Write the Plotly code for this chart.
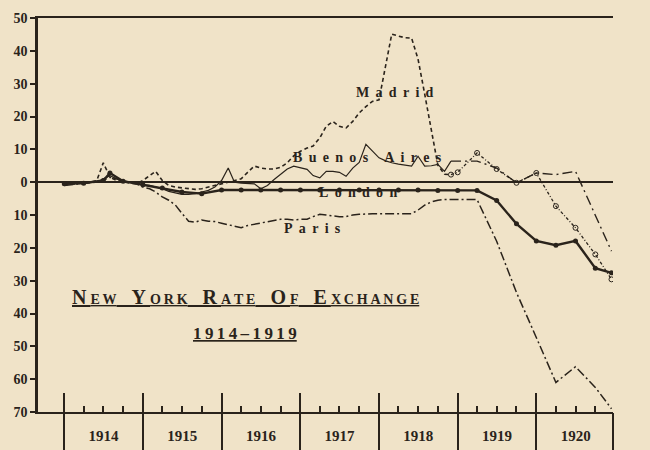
import pandas as pd
import plotly.graph_objects as go

INK = "#2a231b"
PAPER = "#f0e3c8"
SERIF = "Liberation Serif, DejaVu Serif, serif"

# -----------------------
# Data (percent above / below par)
# -----------------------
months = pd.date_range("1914-01-01", "1918-12-01", freq="MS")  # 1914-1918 monthly
late_dates = ["1919-01-01", "1919-04-01", "1919-07-01", "1919-10-01",
              "1920-01-01", "1920-04-01", "1920-07-01", "1920-10-01", "1920-12-15"]

paris = [-1.0, -0.8, -0.5, -0.3, 0.0, 0.0, 0.5, 1.5, 1.0, 0.3, 0.0, -0.5,
         -1.5, -2.0, -3.0, -4.5, -5.5, -7.0, -9.5, -11.9, -12.2, -11.5, -11.9, -12.0,
         -12.5, -13.0, -13.5, -13.9, -13.2, -12.8, -12.5, -12.0, -11.5, -11.3, -11.3, -11.5,
         -11.3, -11.3, -10.5, -9.8, -10.0, -10.3, -10.5, -10.5, -10.0, -9.8, -9.6, -9.6,
         -9.6, -9.6, -9.6, -9.6, -9.6, -9.6, -8.5, -7.0, -6.0, -5.5, -5.3, -5.3]
paris_late = [-5.3, -5.3, -18.0, -33.6, -47.3, -61.0, -56.2, -62.5, -69.0]

madrid = [-0.8, -0.7, -0.5, -0.3, 0.0, 0.5, 5.9, 1.5, 0.5, 0.0, -0.3, -0.5,
          0.5, 2.0, 3.3, 0.5, -1.0, -1.5, -1.8, -2.0, -2.2, -2.0, -1.5, -1.0,
          -0.5, 0.0, 0.3, 1.0, 3.0, 4.9, 4.3, 4.0, 4.0, 4.5, 5.9, 8.0,
          9.4, 10.4, 11.0, 13.5, 17.0, 18.5, 17.0, 16.5, 18.5, 21.1, 23.0, 24.6,
          25.1, 35.0, 45.1, 44.5, 44.0, 43.9, 37.5, 26.8, 16.0, 5.2, 2.4, 2.3]
madrid_late = [3.0, 8.9, 4.0, -0.2, 2.8, -7.3, -13.9, -22.0, -29.6]

buenos_aires = [-0.5, -0.5, -0.3, -0.2, 0.0, 0.0, 1.0, 2.0, 1.0, 0.3, 0.0, -0.5,
                -0.8, -1.0, -1.5, -2.0, -2.8, -3.3, -3.7, -3.7, -3.5, -3.0, -2.5, -1.5,
                0.5, 4.3, 0.0, -0.3, -0.3, -0.5, -2.0, -1.0, 0.8, 2.5, 4.0, 4.9,
                4.3, 3.9, 2.0, 1.3, 3.3, 3.3, 3.0, 1.8, 4.3, 6.0, 11.5, 9.5,
                7.4, 6.5, 5.9, 5.5, 5.2, 4.9, 7.9, 4.9, 5.0, 5.4, 3.3, 6.4]
buenos_aires_late = [6.4, 6.4, 4.3, -0.2, 2.8, 2.3, 3.3, -10.0, -21.0]

london_dates = ["1914-01-01", "1914-04-01", "1914-07-01", "1914-08-01", "1914-10-01",
                "1915-01-01", "1915-04-01", "1915-07-01", "1915-10-01",
                "1916-01-01", "1916-04-01", "1916-07-01", "1916-10-01",
                "1917-01-01", "1917-04-01", "1917-07-01", "1917-10-01",
                "1918-01-01", "1918-04-01", "1918-07-01", "1918-10-01",
                "1919-01-01", "1919-04-01", "1919-07-01", "1919-10-01",
                "1920-01-01", "1920-04-01", "1920-07-01", "1920-10-01", "1920-12-15"]
london = [-0.5, -0.3, 0.5, 2.8, 0.3,
          -0.8, -1.8, -3.0, -3.5,
          -2.4, -2.4, -2.4, -2.4,
          -2.4, -2.4, -2.4, -2.4,
          -2.4, -2.4, -2.4, -2.5,
          -2.5, -2.5, -5.6, -12.7,
          -17.9, -19.2, -17.9, -26.2, -27.6]

years = list(range(1914, 1921))
y_ticks = list(range(-70, 51, 10))
y_labels = [str(abs(v)) for v in y_ticks]
year_starts = [f"{y}-01-01" for y in years]
year_mids = [f"{y}-07-02" for y in years]
x_range = ["1913-09-01", "1920-12-22"]

# -----------------------
# Figure
# -----------------------
fig = go.Figure()

def line(x, y, width, dash="solid", mode="lines", marker=None):
    fig.add_trace(go.Scatter(x=x, y=y, mode=mode, line=dict(color=INK, width=width, dash=dash),
                             marker=marker, hoverinfo="skip", showlegend=False))

# Paris: dash-dot
line(list(months) + late_dates, paris + paris_late, 1.5, dash="9px,3px,2px,3px")
# Buenos Aires: thin solid, then long dashes in 1919-20
line(months, buenos_aires, 1.2)
line([months[-1]] + late_dates, [buenos_aires[-1]] + buenos_aires_late, 1.4, dash="10px,4px,2px,4px")
# Madrid: short dashes, then dotted with open circles
line(months, madrid, 1.6, dash="4px,3px")
line([months[-1]] + late_dates, [madrid[-1]] + madrid_late, 1.3, dash="3px,2px,1px,2px",
     mode="lines+markers", marker=dict(symbol="circle-open", size=5, color=INK))
# London: heavy solid with dots
line(london_dates, london, 2.4, mode="lines+markers",
     marker=dict(symbol="circle", size=5, color=INK))

# empty traces so the extra x axes (year dividers) are drawn
for ax in ("x2", "x3"):
    fig.add_trace(go.Scatter(x=[], y=[], xaxis=ax, showlegend=False, hoverinfo="skip"))

gap = "\u00a0\u2009"
label_font = dict(family=SERIF, size=14, color=INK, weight="bold")
for text, x, y in [("Madrid", "1918-03-16", 27.4),
                   ("Buenos Aires", "1917-11-10", 7.4),
                   ("London", "1917-09-25", -3.0),
                   ("Paris", "1917-02-25", -14.0)]:
    spaced = gap.join(ch if ch != " " else "\u00a0" for ch in text)
    fig.add_annotation(x=x, y=y, text=spaced, showarrow=False, font=label_font)

def small_caps(words, small=14):
    out = []
    for w in words:
        rest = "\u2009".join(w[1:])
        out.append(f"{w[0]}\u2009<span style='font-size:{small}px'>{rest}</span>")
    return "\u00a0\u00a0\u00a0".join(out)

fig.add_annotation(xref="paper", yref="paper", x=0.36, y=0.259,
                   text="<u>" + small_caps(["NEW", "YORK", "RATE", "OF", "EXCHANGE"]) + "</u>",
                   showarrow=False, font=dict(family=SERIF, size=20, color=INK, weight="bold"))
fig.add_annotation(xref="paper", yref="paper", x=0.36, y=0.170,
                   text="<u>" + "\u2009".join("1914–1919") + "</u>",
                   showarrow=False, font=dict(family=SERIF, size=17, color=INK, weight="bold"))

tick_font = dict(family=SERIF, size=14, color=INK, weight="bold")
quarters = [d for d in pd.date_range("1914-01-01", "1920-12-01", freq="QS") if d.month != 1]

divider = dict(type="date", range=x_range, overlaying="x", anchor="y", side="bottom",
               showgrid=False, zeroline=False, showline=False, showticklabels=False,
               tickmode="array", tickwidth=2, tickcolor=INK, automargin=False)

fig.update_layout(
    width=650, height=450,
    margin=dict(l=38, r=37, t=18, b=38),
    paper_bgcolor=PAPER, plot_bgcolor=PAPER,
    showlegend=False,
    xaxis=dict(type="date", range=x_range, showgrid=False, zeroline=False, automargin=False,
               showline=True, linewidth=2, linecolor=INK, mirror=True,
               tickmode="array", tickvals=year_mids, ticktext=[str(y) for y in years],
               ticks="", ticklabelstandoff=9,
               tickfont=dict(family=SERIF, size=15, color=INK, weight="bold"),
               minor=dict(tickmode="array", tickvals=quarters, ticks="inside", ticklen=6,
                          tickwidth=1.5, tickcolor=INK, showgrid=False)),
    xaxis2=dict(divider, tickvals=year_starts + ["1920-12-21"], ticks="outside", ticklen=40),
    xaxis3=dict(divider, tickvals=year_starts, ticks="inside", ticklen=19),
    yaxis=dict(range=[-70, 50], showgrid=False, tickmode="array", tickvals=y_ticks,
               ticktext=y_labels, ticks="outside", ticklen=5, tickwidth=2, tickcolor=INK,
               showline=True, linewidth=2.5, linecolor=INK, tickfont=tick_font,
               zeroline=True, zerolinecolor=INK, zerolinewidth=1.5, automargin=False),
    yaxis2=dict(range=[-70, 50], overlaying="y", side="right", anchor="x", showgrid=False,
                tickmode="array", tickvals=y_ticks, ticktext=y_labels, ticks="outside",
                ticklen=5, tickwidth=2, tickcolor=INK, showline=True, linewidth=2.5,
                linecolor=INK, tickfont=tick_font, zeroline=False, automargin=False),
)

# the page's default body margin would push the 650x450 figure off the window
fig.write_html("out.html", config={"displayModeBar": False},
               post_script="document.body.style.margin='0';")
